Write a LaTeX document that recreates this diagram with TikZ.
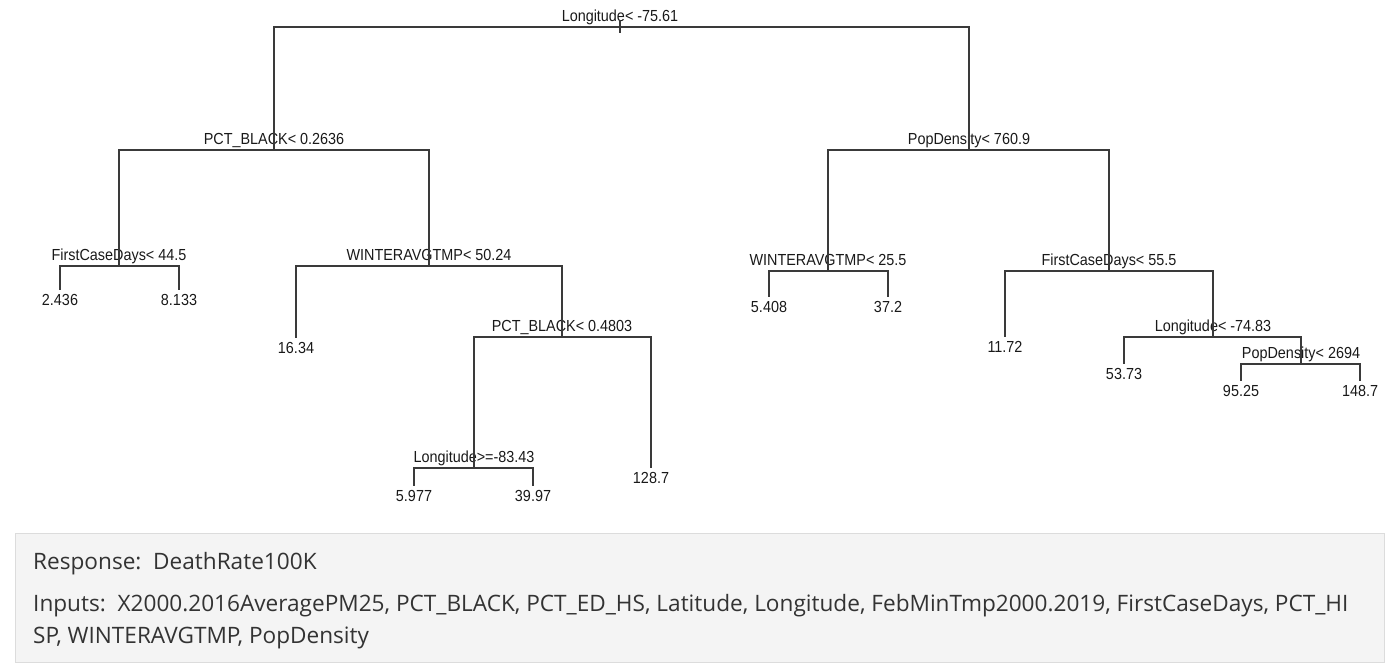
\documentclass[tikz,border=0pt]{standalone}
\usepackage{fontspec}
\newfontfamily\treefont[FakeStretch=0.9]{Liberation Sans}
\newfontfamily\boxfont{Open Sans}
\definecolor{edgecol}{HTML}{3A3A3A}
\definecolor{boxfill}{HTML}{F4F4F4}
\definecolor{boxline}{HTML}{DCDCDC}
\definecolor{boxtxt}{HTML}{333333}
\begin{document}
\begin{tikzpicture}[x=1pt,y=-1pt,
  edge/.style={draw=edgecol,line width=1.2pt},
  split/.style={anchor=base,inner sep=0pt,font=\treefont\fontsize{16}{16}\selectfont,text=black!90},
  leaf/.style={anchor=base,inner sep=0pt,font=\treefont\fontsize{16}{16}\selectfont,text=black!90},
  boxtext/.style={anchor=base west,inner sep=0pt,font=\boxfont\fontsize{22.6}{22.6}\selectfont,text=boxtxt}]
\useasboundingbox (0,0) rectangle (1394,664);

% split points
\coordinate (n1) at (620,27);
\coordinate (n1top) at (620,20);
\coordinate (n1bot) at (620,33);
\coordinate (n2) at (274,150);
\coordinate (n3) at (969,150);
\coordinate (n4) at (119,266);
\coordinate (n5) at (429,266);
\coordinate (n6) at (562,337);
\coordinate (n7) at (474,468);
\coordinate (n8) at (828,271);
\coordinate (n9) at (1109,271);
\coordinate (n10) at (1213,337);
\coordinate (n11) at (1301,364);
% leaf ends
\coordinate (e1) at (60,290);
\coordinate (e2) at (179,290);
\coordinate (e3) at (296,338);
\coordinate (e4) at (414,486);
\coordinate (e5) at (533,486);
\coordinate (e6) at (651,468);
\coordinate (e7) at (769,297);
\coordinate (e8) at (888,297);
\coordinate (e9) at (1005,337);
\coordinate (e10) at (1124,364);
\coordinate (e11) at (1241,381);
\coordinate (e12) at (1360,381);

% split labels
\node[split] (s1) at (620,21) {Longitude< -75.61};
\node[split] (s2) at (274,144) {PCT\_BLACK< 0.2636};
\node[split] (s3) at (969,144) {PopDensity< 760.9};
\node[split] (s4) at (119,260) {FirstCaseDays< 44.5};
\node[split] (s5) at (429,260) {WINTERAVGTMP< 50.24};
\node[split] (s6) at (562,331) {PCT\_BLACK< 0.4803};
\node[split] (s7) at (474,462) {Longitude>=-83.43};
\node[split] (s8) at (828,265) {WINTERAVGTMP< 25.5};
\node[split] (s9) at (1109,265) {FirstCaseDays< 55.5};
\node[split] (s10) at (1213,331) {Longitude< -74.83};
\node[split] (s11) at (1301,358) {PopDensity< 2694};

% leaf labels
\node[leaf] (v1) at (60,305) {2.436};
\node[leaf] (v2) at (179,305) {8.133};
\node[leaf] (v3) at (296,353) {16.34};
\node[leaf] (v4) at (414,501) {5.977};
\node[leaf] (v5) at (533,501) {39.97};
\node[leaf] (v6) at (651,483) {128.7};
\node[leaf] (v7) at (769,312) {5.408};
\node[leaf] (v8) at (888,312) {37.2};
\node[leaf] (v9) at (1005,352) {11.72};
\node[leaf] (v10) at (1124,379) {53.73};
\node[leaf] (v11) at (1241,396) {95.25};
\node[leaf] (v12) at (1360,396) {148.7};

% edges
\draw[edge] (n1top) -- (n1bot);
\draw[edge] (n1) -| (n2);
\draw[edge] (n1) -| (n3);
\draw[edge] (n2) -| (n4);
\draw[edge] (n2) -| (n5);
\draw[edge] (n4) -| (e1);
\draw[edge] (n4) -| (e2);
\draw[edge] (n5) -| (e3);
\draw[edge] (n5) -| (n6);
\draw[edge] (n6) -| (n7);
\draw[edge] (n6) -| (e6);
\draw[edge] (n7) -| (e4);
\draw[edge] (n7) -| (e5);
\draw[edge] (n3) -| (n8);
\draw[edge] (n3) -| (n9);
\draw[edge] (n8) -| (e7);
\draw[edge] (n8) -| (e8);
\draw[edge] (n9) -| (e9);
\draw[edge] (n9) -| (n10);
\draw[edge] (n10) -| (e10);
\draw[edge] (n10) -| (n11);
\draw[edge] (n11) -| (e11);
\draw[edge] (n11) -| (e12);

% info box
\draw[fill=boxfill,draw=boxline,line width=1pt] (15,533) rectangle (1384,662);
\node[boxtext] (resp) at (33,569) {Response:\ \ DeathRate100K};
\node[boxtext] (inp1) at (33,611) {Inputs:\ \ X2000.2016AveragePM25, PCT\_BLACK, PCT\_ED\_HS, Latitude, Longitude, FebMinTmp2000.2019, FirstCaseDays, PCT\_HI};
\node[boxtext] (inp2) at (33,643) {SP, WINTERAVGTMP, PopDensity};
\end{tikzpicture}
\end{document}
